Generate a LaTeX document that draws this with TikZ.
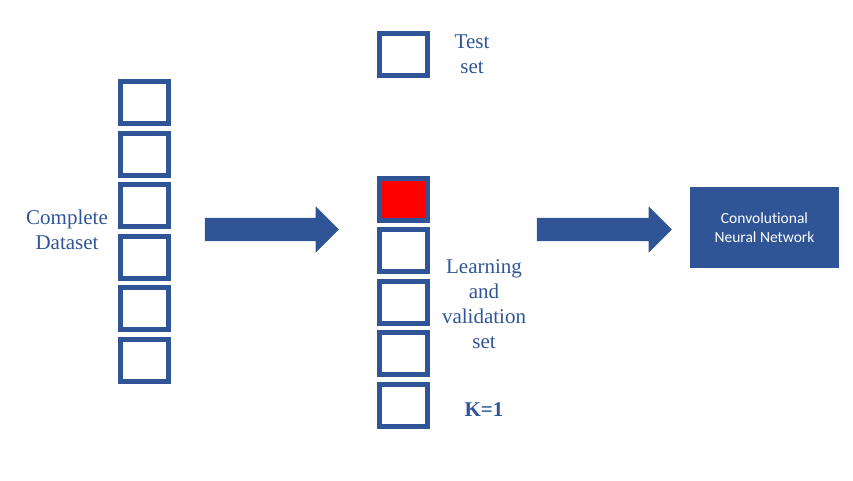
\documentclass[tikz,border=0pt]{standalone}
\usepackage{fontspec}
\setmainfont{Liberation Serif}
\newfontfamily\cnnfont[Ligatures=NoCommon]{Carlito}
\usetikzlibrary{shapes.arrows}
\definecolor{dblue}{RGB}{47,85,151}
\definecolor{cellred}{RGB}{255,0,0}
\begin{document}
\begin{tikzpicture}[x=1pt,y=-1pt,
  cell/.style={draw=dblue,line width=5pt,fill=white,minimum width=48pt,minimum height=42pt,inner sep=0pt,outer sep=0pt},
  redcell/.style={cell,fill=cellred},
  lbl/.style={text=dblue,font=\fontsize{21}{25}\selectfont,align=center,inner sep=0pt},
  bigarrow/.style={single arrow,fill=dblue,inner sep=11.5pt,single arrow head extend=11.5pt,single arrow head indent=0pt,minimum height=134pt,outer sep=0pt},
  cnn/.style={fill=dblue,text=white,minimum width=149pt,minimum height=81pt,inner sep=0pt,align=center,font=\cnnfont\fontsize{15.5}{19}\selectfont}
]
\useasboundingbox (0,0) rectangle (853,480);
% left column
\node[cell] (l1) at (144.5,102.5) {};
\node[cell] (l2) at (144.5,154) {};
\node[cell] (l3) at (144.5,205.5) {};
\node[cell] (l4) at (144.5,257.5) {};
\node[cell] (l5) at (144.5,308.5) {};
\node[cell] (l6) at (144.5,360) {};
\node[lbl] (cd) at (67,230) {Complete\\Dataset};
% arrow 1
\node[bigarrow] (a1) at (266,229.5) {};
% middle column
\node[cell] (t1) at (403,54.5) {};
\node[lbl] (ts) at (472,54) {Test\\set};
\node[redcell] (m1) at (403,199.5) {};
\node[cell] (m2) at (403,250.5) {};
\node[cell] (m3) at (403,302.5) {};
\node[cell] (m4) at (403,353.5) {};
\node[cell] (m5) at (403,405.5) {};
\node[lbl] (lv) at (484,304) {Learning\\and\\validation\\set};
\node[lbl,font=\fontsize{21}{25}\selectfont\bfseries] (k) at (484,410) {K=1};
% arrow 2
\node[bigarrow,minimum height=135pt] (a2) at (598.5,229.5) {};
% CNN box
\node[cnn] (net) at (764.5,227.5) {Convolutional\\Neural Network};
\end{tikzpicture}
\end{document}
